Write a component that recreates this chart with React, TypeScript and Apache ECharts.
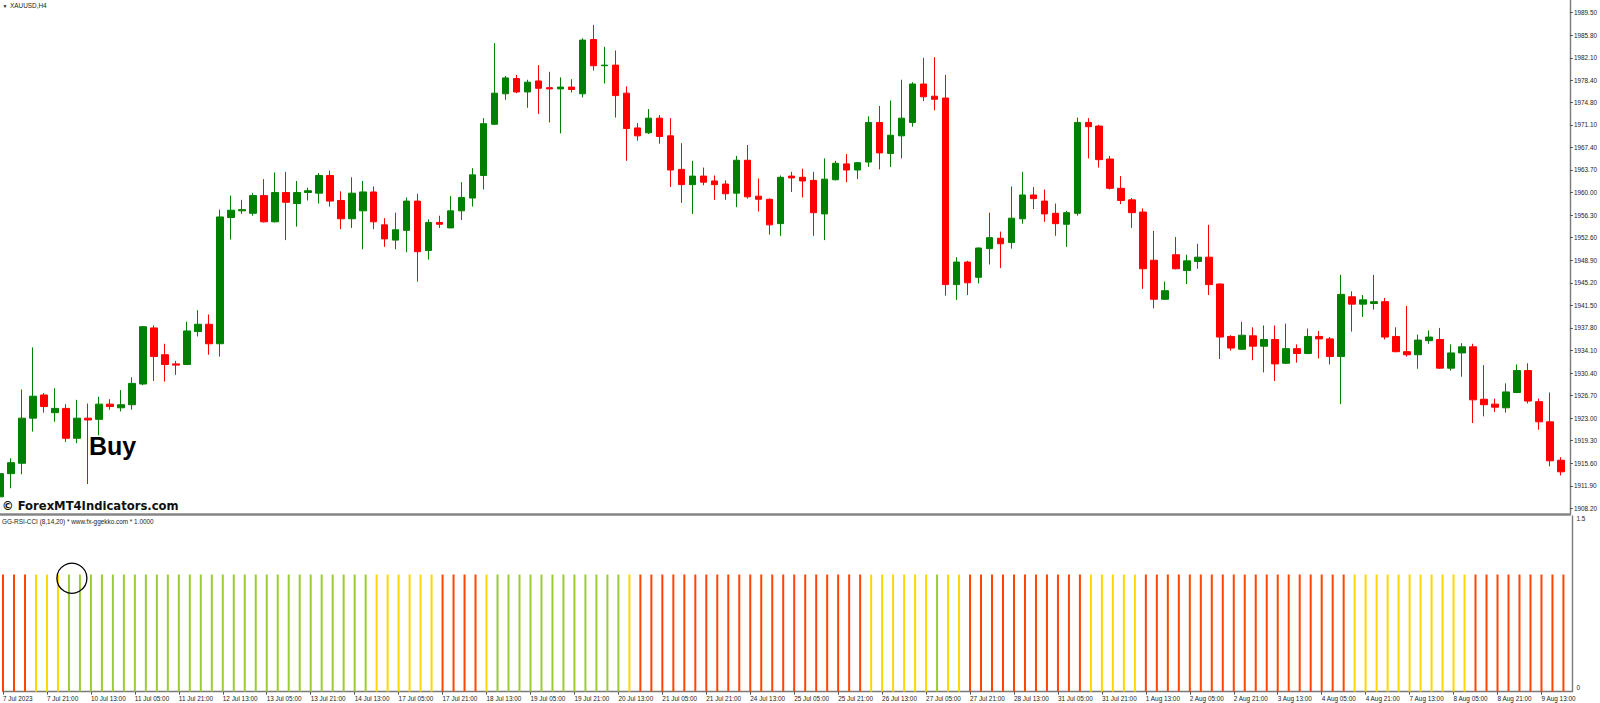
import React, { useEffect, useRef } from "react";
import * as echarts from "echarts";

// XAUUSD H4 bars, 7 Jul 2023 05:00 .. 9 Aug 2023 21:00 (143 bars)
const OPEN = [
  1910.1, 1913.9, 1915.6, 1923.0, 1926.8, 1923.9, 1924.6, 1919.7, 1923.0, 1922.8,
  1925.3, 1924.7, 1925.2, 1928.6, 1937.8, 1933.4, 1931.9, 1931.8, 1937.2, 1938.4,
  1935.2, 1955.9, 1957.0, 1956.6, 1959.5, 1955.2, 1960.0, 1958.2, 1960.0, 1959.9,
  1962.8, 1958.7, 1955.7, 1957.0, 1960.1, 1954.7, 1952.2, 1953.8, 1958.6, 1950.5,
  1955.1, 1954.2, 1957.0, 1959.1, 1962.8, 1971.2, 1976.2, 1978.7, 1976.5, 1978.3,
  1977.2, 1977.0, 1977.3, 1976.2, 1985.1, 1980.8, 1980.9, 1976.3, 1970.6, 1969.8,
  1972.2, 1969.3, 1963.8, 1961.3, 1962.7, 1961.9, 1961.4, 1959.9, 1965.3, 1959.4,
  1958.9, 1954.9, 1962.7, 1962.5, 1962.0, 1956.5, 1962.1, 1964.7, 1963.7, 1965.0,
  1971.5, 1966.4, 1969.3, 1971.5, 1977.8, 1975.8, 1975.5, 1944.9, 1948.6, 1946.1,
  1950.8, 1952.5, 1951.8, 1955.7, 1959.6, 1958.6, 1956.6, 1954.8, 1956.6, 1971.5,
  1970.9, 1965.5, 1960.7, 1958.8, 1956.8, 1948.9, 1942.5, 1949.8, 1947.2, 1948.7,
  1949.4, 1945.0, 1936.4, 1934.3, 1936.5, 1934.8, 1935.9, 1932.0, 1934.4, 1933.6,
  1936.4, 1936.0, 1933.1, 1942.9, 1941.7, 1941.8, 1942.1, 1936.4, 1933.9, 1933.4,
  1935.7, 1935.9, 1931.2, 1933.7, 1934.7, 1926.1, 1925.3, 1924.7, 1927.2, 1930.8,
  1925.7, 1922.4, 1916.1,
];
const CLOSE = [
  1913.9, 1915.7, 1923.0, 1926.6, 1924.9, 1924.6, 1919.7, 1923.0, 1922.7, 1925.3,
  1924.9, 1925.2, 1928.7, 1938.0, 1933.1, 1931.8, 1931.7, 1937.3, 1938.4, 1935.2,
  1956.0, 1957.1, 1957.2, 1959.5, 1955.2, 1960.0, 1958.4, 1960.0, 1960.3, 1962.8,
  1958.6, 1955.7, 1959.9, 1960.1, 1955.2, 1952.4, 1953.9, 1958.6, 1950.3, 1955.1,
  1954.8, 1957.0, 1959.2, 1962.9, 1971.3, 1976.3, 1978.8, 1976.5, 1978.1, 1977.1,
  1977.0, 1977.3, 1976.9, 1985.0, 1980.8, 1980.9, 1975.9, 1970.5, 1969.3, 1972.2,
  1969.2, 1963.7, 1961.3, 1962.7, 1961.7, 1961.3, 1959.8, 1965.3, 1959.3, 1958.9,
  1954.7, 1962.5, 1962.4, 1961.9, 1956.7, 1962.2, 1964.8, 1963.7, 1964.9, 1971.5,
  1966.5, 1969.4, 1972.2, 1977.8, 1975.7, 1975.3, 1944.9, 1948.6, 1945.2, 1950.9,
  1952.6, 1951.6, 1955.8, 1959.6, 1959.0, 1956.5, 1954.9, 1956.7, 1971.5, 1970.8,
  1965.4, 1960.7, 1958.7, 1956.7, 1947.5, 1942.5, 1943.9, 1947.5, 1948.8, 1949.4,
  1944.9, 1936.3, 1934.5, 1936.6, 1934.8, 1935.9, 1931.9, 1934.4, 1933.6, 1936.4,
  1936.0, 1933.1, 1943.3, 1941.7, 1942.4, 1942.1, 1936.3, 1933.9, 1933.4, 1935.8,
  1936.3, 1931.2, 1933.7, 1934.7, 1926.0, 1925.2, 1924.8, 1927.3, 1930.8, 1925.8,
  1922.4, 1916.0, 1914.2,
];
const LOW = [
  1909.6, 1911.5, 1913.8, 1920.8, 1923.9, 1922.4, 1919.1, 1918.9, 1912.2, 1920.2,
  1924.4, 1924.1, 1924.4, 1928.4, 1929.1, 1929.0, 1930.1, 1931.7, 1936.4, 1933.4,
  1933.1, 1952.3, 1956.5, 1956.2, 1955.1, 1955.1, 1952.2, 1954.4, 1958.7, 1958.2,
  1957.7, 1954.0, 1954.2, 1950.7, 1954.0, 1951.1, 1950.7, 1950.2, 1945.4, 1949.0,
  1954.2, 1954.2, 1955.5, 1957.7, 1960.5, 1971.1, 1975.2, 1976.3, 1973.9, 1972.9,
  1971.5, 1969.7, 1976.4, 1975.6, 1980.0, 1977.9, 1972.3, 1965.2, 1968.5, 1969.6,
  1968.0, 1960.9, 1958.3, 1956.5, 1961.2, 1958.8, 1958.8, 1957.6, 1959.0, 1956.9,
  1953.1, 1952.9, 1960.1, 1959.2, 1952.9, 1952.2, 1962.0, 1961.7, 1962.2, 1964.2,
  1963.8, 1964.2, 1965.6, 1970.8, 1975.0, 1973.5, 1943.1, 1942.4, 1943.2, 1945.1,
  1948.2, 1947.6, 1950.8, 1954.9, 1957.3, 1955.2, 1952.9, 1951.1, 1956.2, 1965.6,
  1964.1, 1960.5, 1958.1, 1954.2, 1944.2, 1941.0, 1942.4, 1947.4, 1945.0, 1947.5,
  1943.2, 1932.7, 1934.1, 1934.2, 1932.5, 1930.5, 1929.1, 1931.9, 1932.1, 1933.5,
  1932.8, 1931.8, 1925.3, 1937.2, 1939.6, 1940.8, 1935.9, 1933.8, 1933.1, 1931.1,
  1935.2, 1931.1, 1930.8, 1929.8, 1922.2, 1923.3, 1924.0, 1923.9, 1927.1, 1925.4,
  1921.1, 1915.1, 1913.6,
];
const HIGH = [
  1914.2, 1916.4, 1927.7, 1934.6, 1927.1, 1927.9, 1925.3, 1926.0, 1925.4, 1926.5,
  1926.1, 1927.6, 1929.7, 1938.1, 1938.2, 1935.2, 1932.4, 1938.8, 1940.7, 1940.0,
  1957.2, 1959.5, 1958.8, 1959.9, 1962.2, 1963.3, 1963.4, 1961.9, 1960.8, 1963.2,
  1963.6, 1960.2, 1962.5, 1961.9, 1961.0, 1955.8, 1956.7, 1959.2, 1959.8, 1955.6,
  1956.2, 1959.4, 1961.7, 1964.0, 1972.2, 1984.5, 1979.1, 1979.3, 1978.5, 1980.9,
  1979.8, 1978.9, 1978.6, 1985.3, 1987.5, 1983.9, 1983.3, 1977.4, 1971.4, 1973.7,
  1972.7, 1972.2, 1968.1, 1965.2, 1964.1, 1962.8, 1962.0, 1966.0, 1967.8, 1962.3,
  1959.0, 1962.8, 1963.4, 1963.9, 1963.4, 1965.6, 1965.2, 1966.3, 1965.0, 1972.5,
  1974.2, 1975.1, 1978.5, 1978.1, 1982.1, 1982.2, 1979.3, 1949.4, 1948.8, 1951.0,
  1956.7, 1953.6, 1961.0, 1963.4, 1960.9, 1960.5, 1958.2, 1957.0, 1972.3, 1972.2,
  1971.1, 1966.0, 1962.7, 1959.1, 1957.4, 1953.7, 1945.4, 1952.7, 1949.8, 1951.6,
  1954.7, 1945.1, 1936.6, 1938.8, 1937.9, 1938.2, 1938.2, 1938.5, 1935.1, 1937.7,
  1937.3, 1936.3, 1946.5, 1943.8, 1943.2, 1946.5, 1942.7, 1937.9, 1941.4, 1936.7,
  1937.4, 1937.8, 1935.1, 1935.3, 1935.2, 1931.7, 1926.2, 1928.7, 1931.8, 1932.0,
  1926.2, 1927.2, 1916.6,
];

// GG-RSI-CCI signal per bar: R = sell (red), Y = neutral (gold), G = buy (green)
const SIGNAL = (
  "RRR" + "YYY" + "GGGGGGGGGGGGGGGGGGGGGGGGGGGG" + "YYYYYY" + "RRRR" + "Y" +
  "GGGGGGGGGGGG" + "Y" + "RRRRRRRRRRRRRRRRRRRRR" + "YYYYYY" + "G" + "YY" +
  "RRRRRRRRRRR" + "YYYYY" + "RRRRRRRRRRRRRRRRRRR" + "YYYYYYYYYYY" + "RRRRRRRRR"
).split("");

const TICK_LABELS = [
  "7 Jul 2023", "7 Jul 21:00", "10 Jul 13:00", "11 Jul 05:00", "11 Jul 21:00",
  "12 Jul 13:00", "13 Jul 05:00", "13 Jul 21:00", "14 Jul 13:00", "17 Jul 05:00",
  "17 Jul 21:00", "18 Jul 13:00", "19 Jul 05:00", "19 Jul 21:00", "20 Jul 13:00",
  "21 Jul 05:00", "21 Jul 21:00", "24 Jul 13:00", "25 Jul 05:00", "25 Jul 21:00",
  "26 Jul 13:00", "27 Jul 05:00", "27 Jul 21:00", "28 Jul 13:00", "31 Jul 05:00",
  "31 Jul 21:00", "1 Aug 13:00", "2 Aug 05:00", "2 Aug 21:00", "3 Aug 13:00",
  "4 Aug 05:00", "4 Aug 21:00", "7 Aug 13:00", "8 Aug 05:00", "8 Aug 21:00",
  "9 Aug 13:00",
];
const TICK_STEP = 4;

const PRICE_TICKS = [
  1908.2, 1911.9, 1915.6, 1919.3, 1923.0, 1926.7, 1930.4, 1934.1, 1937.8, 1941.5,
  1945.2, 1948.9, 1952.6, 1956.3, 1960.0, 1963.7, 1967.4, 1971.1, 1974.8, 1978.4,
  1982.1, 1985.8, 1989.5,
];
const PRICE_LABELS = [
  "1908.20", "1911.90", "1915.60", "1919.30", "1923.00", "1926.70", "1930.40",
  "1934.10", "1937.80", "1941.50", "1945.20", "1948.90", "1952.60", "1956.30",
  "1960.00", "1963.70", "1967.40", "1971.10", "1974.80", "1978.40", "1982.10",
  "1985.80", "1989.50",
];

const SIGNAL_COLORS: Record<string, string> = { R: "#ff4500", Y: "#ffd700", G: "#9acd32" };
const BULL = "#008000";
const BEAR = "#ff0000";
const AXIS_GRAY = "#7a7a7a";
const FONT = "'Liberation Sans', Arial, sans-serif";

const PLOT_W = 1572.4;
const BAR_STEP = 11.01;
const X_MAX = PLOT_W / BAR_STEP;

function buildOption() {
  const candles = OPEN.map((o, i) => [i, o, CLOSE[i], LOW[i], HIGH[i]]);
  const signalBars = SIGNAL.map((c, i) => ({
    value: [i, 1],
    itemStyle: { color: SIGNAL_COLORS[c] },
  }));
  const tickValues = TICK_LABELS.map((_, k) => k * TICK_STEP);
  const smallText = { fontSize: 6.4, fontFamily: FONT, color: "#222" };

  return {
    animation: false,
    backgroundColor: "#ffffff",
    grid: [
      { left: 0, top: 0, width: PLOT_W, height: 514 },
      { left: 0, top: 516, width: PLOT_W, height: 175.6 },
    ],
    xAxis: [
      {
        type: "value",
        gridIndex: 0,
        min: 0,
        max: X_MAX,
        axisLine: { show: true, onZero: false, lineStyle: { color: "#858585", width: 2.6 } },
        axisTick: { show: false },
        axisLabel: { show: false },
        splitLine: { show: false },
      },
      {
        type: "value",
        gridIndex: 1,
        min: 0,
        max: X_MAX,
        axisLine: { show: true, onZero: false, lineStyle: { color: AXIS_GRAY, width: 1.4 } },
        axisTick: { show: true, customValues: tickValues, length: 3, lineStyle: { color: "#555" } },
        axisLabel: {
          show: true,
          customValues: tickValues,
          formatter: (v: number) => TICK_LABELS[Math.round(v / TICK_STEP)] ?? "",
          align: "left",
          margin: 4,
          ...smallText,
        },
        splitLine: { show: false },
      },
    ],
    yAxis: [
      {
        type: "value",
        gridIndex: 0,
        position: "right",
        min: 1907.28,
        max: 1991.58,
        axisLine: { show: true, onZero: false, lineStyle: { color: AXIS_GRAY, width: 1.4 } },
        axisTick: { show: true, customValues: PRICE_TICKS, length: 3, lineStyle: { color: "#555" } },
        axisLabel: {
          show: true,
          customValues: PRICE_TICKS,
          formatter: (v: number) => {
            let best = 0;
            PRICE_TICKS.forEach((t, k) => {
              if (Math.abs(t - v) < Math.abs(PRICE_TICKS[best] - v)) best = k;
            });
            return PRICE_LABELS[best];
          },
          margin: 4,
          ...smallText,
        },
        splitLine: { show: false },
      },
      {
        type: "value",
        gridIndex: 1,
        position: "right",
        min: 0,
        max: 1.5,
        axisLine: { show: true, onZero: false, lineStyle: { color: AXIS_GRAY, width: 1.4 } },
        axisTick: { show: false },
        axisLabel: {
          show: true,
          customValues: [0.035, 1.478],
          formatter: (v: number) => (v > 1 ? "1.5" : "0"),
          margin: 4,
          ...smallText,
        },
        splitLine: { show: false },
      },
    ],
    series: [
      {
        type: "candlestick",
        xAxisIndex: 0,
        yAxisIndex: 0,
        data: candles,
        encode: { x: 0, y: [1, 2, 3, 4] },
        barWidth: 7,
        itemStyle: {
          color: BULL,
          color0: BEAR,
          borderColor: BULL,
          borderColor0: BEAR,
          borderWidth: 1,
        },
      },
      {
        type: "bar",
        xAxisIndex: 1,
        yAxisIndex: 1,
        data: signalBars,
        barWidth: 2,
      },
      {
        type: "scatter",
        xAxisIndex: 1,
        yAxisIndex: 1,
        data: [[6.27, 0.968]],
        symbol: "circle",
        symbolSize: 30,
        z: 10,
        itemStyle: { color: "rgba(0,0,0,0)", borderColor: "#000", borderWidth: 1.3, opacity: 1 },
      },
    ],
    graphic: [
      {
        type: "text",
        x: 2.5,
        y: 5.5,
        style: { text: "▼", fontSize: 5, fill: "#222", verticalAlign: "middle" },
      },
      {
        type: "text",
        x: 10,
        y: 5.5,
        style: { text: "XAUUSD,H4", fontSize: 6.4, fontFamily: FONT, fill: "#222", verticalAlign: "middle" },
      },
      {
        type: "text",
        x: 89,
        y: 446,
        z: 20,
        style: {
          text: "Buy",
          fontSize: 25,
          fontWeight: "bold",
          fontFamily: FONT,
          fill: "#000",
          verticalAlign: "middle",
        },
      },
      {
        type: "text",
        x: 2,
        y: 505.5,
        z: 20,
        style: {
          text: "© ForexMT4Indicators.com",
          fontSize: 11.6,
          fontWeight: "bold",
          fontFamily: "'DejaVu Sans', Verdana, sans-serif",
          fill: "#111",
          verticalAlign: "middle",
        },
      },
      {
        type: "text",
        x: 2,
        y: 521.7,
        z: 20,
        style: {
          text: "GG-RSI-CCI (8,14,20) * www.fx-ggekko.com * 1.0000",
          fontSize: 6.4,
          fontFamily: FONT,
          fill: "#222",
          verticalAlign: "middle",
        },
      },
    ],
  };
}

export default function App() {
  const ref = useRef<HTMLDivElement>(null);
  useEffect(() => {
    document.body.style.margin = "0";
    const el = ref.current;
    if (!el) return;
    const chart = echarts.init(el, null, { renderer: "svg", width: 1600, height: 703 });
    chart.setOption(buildOption() as any);
    return () => chart.dispose();
  }, []);
  return (
    <div
      ref={ref}
      style={{ position: "fixed", left: 0, top: 0, width: 1600, height: 703, background: "#fff" }}
    />
  );
}
